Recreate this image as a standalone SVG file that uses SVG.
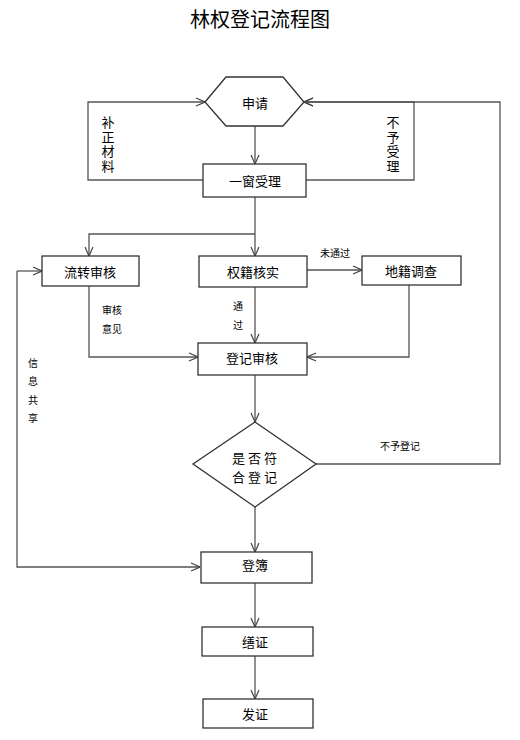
<svg xmlns="http://www.w3.org/2000/svg" width="520" height="740" viewBox="0 0 520 740">
<style>
.n{fill:#fff;stroke:#333;stroke-width:1.3}
.t{font-family:"Noto Sans CJK SC","Noto Sans",sans-serif;font-size:13px;fill:#000;text-anchor:middle;dominant-baseline:central}
.s{font-family:"Noto Sans CJK SC","Noto Sans",sans-serif;font-size:10px;fill:#000;text-anchor:middle;dominant-baseline:central}
.v{writing-mode:vertical-rl;text-orientation:upright}
.c{fill:none;stroke:#555;stroke-width:1.3}
</style>
<defs>
<marker id="a" viewBox="0 0 10 10" refX="10" refY="5" markerWidth="10" markerHeight="10" markerUnits="userSpaceOnUse" orient="auto">
<path d="M1,1 L10,5 L1,9" fill="none" stroke="#444" stroke-width="1.2"/>
</marker>
</defs>
<rect width="520" height="740" fill="#fff"/>
<text x="260" y="18" font-family="Noto Sans CJK SC,sans-serif" font-size="20" text-anchor="middle" dominant-baseline="central">林权登记流程图</text>
<g id="connectors">
<path class="c" d="M255,126 V164" marker-end="url(#a)"/>
<path class="c" d="M203,180 H88 V102 H205" marker-end="url(#a)"/>
<path class="c" d="M306,180 H414 V102 H304" marker-end="url(#a)"/>
<path class="c" d="M255,197 V256" marker-end="url(#a)"/>
<path class="c" d="M255,234 H89 V256" marker-end="url(#a)"/>
<path class="c" d="M307,270 H362" marker-end="url(#a)"/>
<path class="c" d="M89,286 V357 H198" marker-end="url(#a)"/>
<path class="c" d="M255,287 V343" marker-end="url(#a)"/>
<path class="c" d="M409,285 V357 H307" marker-end="url(#a)"/>
<path class="c" d="M255,375 V422" marker-end="url(#a)"/>
<path class="c" d="M316,464 H500 V102 H304" marker-end="url(#a)"/>
<path class="c" d="M255,507 V552" marker-end="url(#a)"/>
<path class="c" d="M17,271 V567 H200" marker-end="url(#a)"/>
<path class="c" d="M17,271 H42" marker-end="url(#a)"/>
<path class="c" d="M255,583 V627" marker-end="url(#a)"/>
<path class="c" d="M255,656 V699" marker-end="url(#a)"/>
<text class="t v" x="108" y="145" font-size="12" letter-spacing="1.5">补正材料</text>
<text class="t v" x="393" y="145" font-size="12" letter-spacing="1.5">不予受理</text>
<text class="s" x="335" y="252">未通过</text>
<text class="s" x="112" y="309">审核</text>
<text class="s" x="112" y="328">意见</text>
<text class="s v" x="238" y="320" letter-spacing="9">通过</text>
<text class="s v" x="33" y="395" letter-spacing="8.5">信息共享</text>
<text class="s" x="400" y="445">不予登记</text>
</g>
<g id="n-apply"><polygon class="n" points="205,102 226,77 283,77 304,102 283,126 226,126"/><text class="t" x="255" y="102" font-size="18">申请</text></g>
<g id="n-window"><rect class="n" x="203" y="164" width="103" height="33"/><text class="t" x="255" y="180">一窗受理</text></g>
<g id="n-transfer"><rect class="n" x="42" y="256" width="97" height="30"/><text class="t" x="90" y="271">流转审核</text></g>
<g id="n-verify"><rect class="n" x="199" y="256" width="108" height="31"/><text class="t" x="253" y="271">权籍核实</text></g>
<g id="n-survey"><rect class="n" x="362" y="256" width="99" height="29"/><text class="t" x="411" y="270">地籍调查</text></g>
<g id="n-review"><rect class="n" x="198" y="343" width="109" height="32"/><text class="t" x="252" y="357">登记审核</text></g>
<g id="n-decide"><polygon class="n" points="255,422 316,464 255,507 193,464"/><text class="t" x="256" y="457" letter-spacing="3">是否符</text><text class="t" x="256" y="476" letter-spacing="3">合登记</text></g>
<g id="n-book"><rect class="n" x="201" y="552" width="111" height="31"/><text class="t" x="255" y="564">登簿</text></g>
<g id="n-make"><rect class="n" x="202" y="627" width="111" height="29"/><text class="t" x="255" y="641">缮证</text></g>
<g id="n-issue"><rect class="n" x="203" y="699" width="110" height="29"/><text class="t" x="255" y="713">发证</text></g>
</svg>
